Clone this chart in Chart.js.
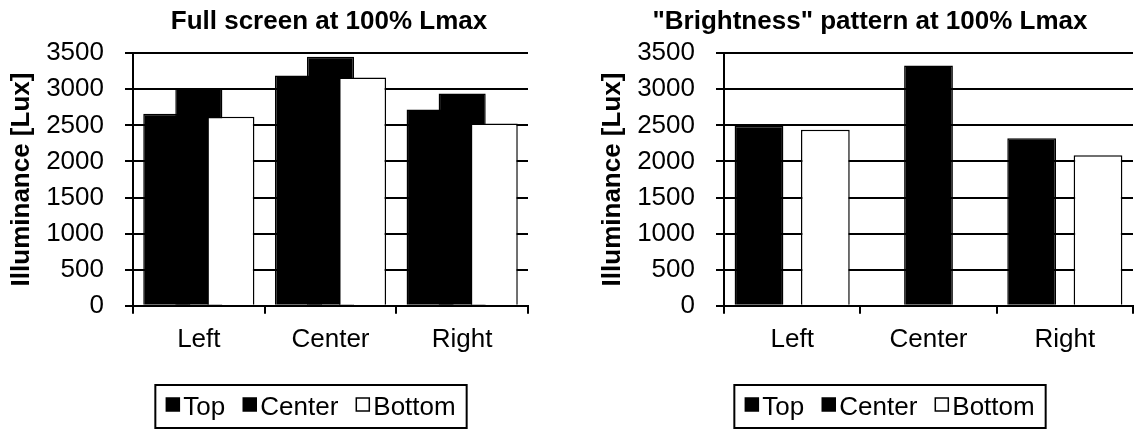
<!DOCTYPE html>
<html><head><meta charset="utf-8">
<script src="https://cdn.jsdelivr.net/npm/chart.js@4/dist/chart.umd.min.js"></script>
<style>
html,body{margin:0;padding:0;background:#fff;overflow:hidden;width:1135px;height:431px;position:relative;}
.box{position:absolute;top:0;height:431px;}
</style></head><body>
<div class="box" style="left:0;width:652px"><canvas id="c1"></canvas></div>
<div class="box" style="left:591px;width:552px"><canvas id="c2"></canvas></div>
<script>
// ---- data ----
const categories = ['Left', 'Center', 'Right'];
const seriesNames = ['Top', 'Center', 'Bottom'];
const fullTop = [2660, 3190, 2720];
const fullCenter = [3010, 3450, 2940];
const fullBottom = [2620, 3165, 2525];
const brightTop = [2490, null, 2320];
const brightCenter = [null, 3330, null];
const brightBottom = [2440, null, 2085];
const yMin = 0, yMax = 3500, yStep = 500;
const chartTitles = ['Full screen at 100% Lmax', '"Brightness" pattern at 100% Lmax'];
const yTitle = 'Illuminance [Lux]';

const FONT = '"Liberation Sans", Arial, Helvetica, sans-serif';
const FS = 26;

const drawOrder = {
  id: 'drawOrder',
  beforeDatasetsDraw(chart) {
    const metas = chart.getSortedVisibleDatasetMetas();
    for (const m of metas) m.controller.draw();
    return false;
  }
};

const boxLegend = {
  id: 'boxLegend',
  afterDraw(chart, args, o) {
    const ctx = chart.ctx;
    ctx.save();
    ctx.font = FS + 'px ' + FONT;
    const items = chart.data.datasets.map(d => ({text: d.label, fill: d.backgroundColor, w: ctx.measureText(d.label).width}));
    const total = o.pad * 2 + items.reduce((s, it) => s + o.marker + o.gap + it.w, 0) + o.spacing * (items.length - 1);
    const x0 = o.centerX - total / 2;
    ctx.lineWidth = 2; ctx.strokeStyle = '#000';
    ctx.strokeRect(x0, o.top, total, o.height);
    let cx = x0 + o.pad;
    const cy = o.top + o.height / 2;
    items.forEach(it => {
      ctx.fillStyle = it.fill;
      ctx.fillRect(cx, cy - o.marker / 2 - 2, o.marker, o.marker);
      ctx.lineWidth = 1.5;
      ctx.strokeRect(cx, cy - o.marker / 2 - 2, o.marker, o.marker);
      cx += o.marker + o.gap;
      ctx.fillStyle = '#000'; ctx.textBaseline = 'middle'; ctx.textAlign = 'left';
      ctx.fillText(it.text, cx, cy + 1);
      cx += it.w + o.spacing;
    });
    ctx.restore();
  }
};

function makeChart(id, title, top, center, bottom, rightW, legendX) {
  const mk = (label, data, color) => ({
    label, data, backgroundColor: color, borderColor: '#000', borderWidth: 1.5,
    categoryPercentage: 0.73, barPercentage: 1.47
  });
  return new Chart(document.getElementById(id), {
    type: 'bar',
    data: {
      labels: categories,
      datasets: [
        mk(seriesNames[0], top, '#000'),
        mk(seriesNames[1], center, '#000'),
        mk(seriesNames[2], bottom, '#fff')
      ]
    },
    options: {
      responsive: true, maintainAspectRatio: false, animation: false, devicePixelRatio: 1,
      layout: {padding: {left: 6, right: 0, top: 0, bottom: 66}},
      plugins: {
        legend: {display: false},
        tooltip: {enabled: false},
        title: {display: true, text: title, color: '#000',
          font: {family: FONT, size: FS, weight: 'bold'}, padding: {top: 6, bottom: 16}},
        boxLegend: {centerX: legendX, top: 385, height: 43, marker: 13, gap: 4, spacing: 18, pad: 11}
      },
      scales: {
        x: {
          grid: {offset: true, drawOnChartArea: false, drawTicks: true, tickLength: 8, color: '#000', lineWidth: 2},
          border: {display: true, color: '#000', width: 2},
          ticks: {color: '#000', font: {family: FONT, size: FS}, padding: 10}
        },
        y: {
          min: yMin, max: yMax,
          ticks: {stepSize: yStep, color: '#000', font: {family: FONT, size: FS}, padding: 21,
            callback: v => String(v)},
          grid: {color: '#000', lineWidth: 2, tickLength: 8, tickColor: '#000', tickWidth: 2},
          border: {display: true, color: '#000', width: 2},
          title: {display: true, text: yTitle, color: '#000',
            font: {family: FONT, size: FS, weight: 'bold'}, padding: {top: 0, bottom: 9}},
          afterFit(s) { s.width = 127; }
        },
        yR: {
          position: 'right', display: true,
          grid: {display: false}, border: {display: false}, ticks: {display: false},
          afterFit(s) { s.width = rightW; }
        }
      }
    },
    plugins: [drawOrder, boxLegend]
  });
}

makeChart('c1', chartTitles[0], fullTop, fullCenter, fullBottom, 124, 311);
makeChart('c2', chartTitles[1], brightTop, brightCenter, brightBottom, 10, 299);
</script>
</body></html>
